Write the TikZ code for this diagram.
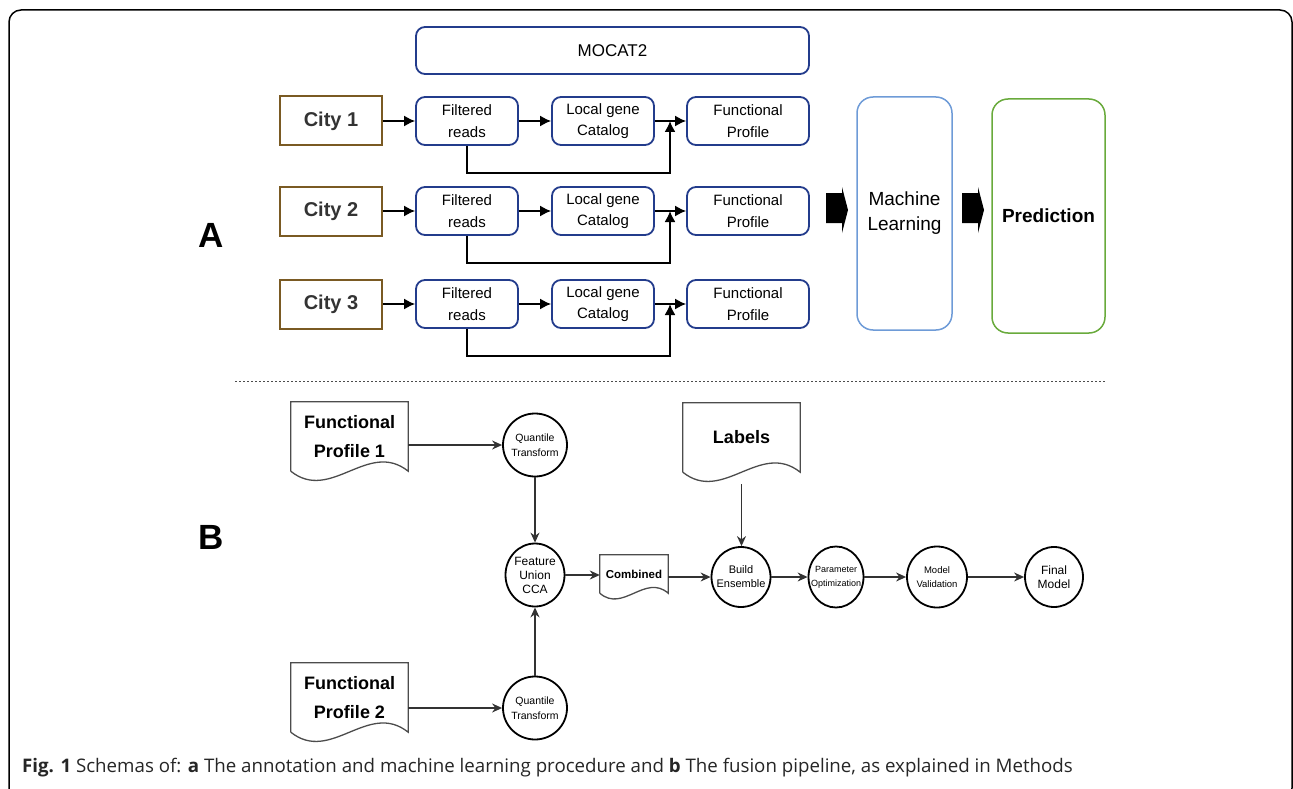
\documentclass[tikz,border=0pt]{standalone}
\usepackage{fontspec}
\setmainfont{Liberation Sans}
\newfontfamily\capfont{Open Sans}
\usepackage{tikz}
\usetikzlibrary{arrows.meta, shapes.geometric, positioning}
\definecolor{mocblue}{RGB}{35,60,140}
\definecolor{citybrown}{RGB}{122,90,35}
\definecolor{mlblue}{RGB}{110,155,215}
\definecolor{predgreen}{RGB}{105,170,60}
\tikzstyle{stepbox}=[rectangle, rounded corners=9pt, draw=mocblue, line width=1.8pt, minimum width=102pt, minimum height=48pt, inner sep=0pt, align=center, font=\fontsize{15}{21.5}\selectfont]
\tikzstyle{city}=[rectangle, draw=citybrown, line width=2pt, minimum width=102pt, minimum height=49pt, text=black!80, font=\fontsize{20}{24}\selectfont\bfseries]
\tikzstyle{flow}=[-{Latex[length=11pt,width=11pt]}, line width=1.6pt]
\tikzstyle{bigarrow}=[fill=black]
\tikzstyle{stage}=[ellipse, draw, line width=1.8pt, minimum width=59pt, minimum height=61pt, inner xsep=-14pt, inner ysep=0pt, align=center]
\tikzstyle{doc}=[rectangle, inner sep=0pt, minimum width=117pt, minimum height=69pt, align=center, font=\fontsize{18}{29}\selectfont\bfseries]
\tikzstyle{docline}=[draw=black!70, line width=1.3pt]
\tikzstyle{link}=[-{Stealth[length=10pt,width=9pt]}, line width=1.3pt, draw=black!80]
\newcommand{\docoutline}[3]{\draw[docline] (#1.south west) |- (#1.north east) -- (#1.south east) .. controls +(-#2,-#3) and +(#2,#3) .. (#1.south west);}
\begin{document}
\begin{tikzpicture}[x=1pt, y=-1pt]
        \useasboundingbox (0,0) rectangle (1293,789);
        \draw[line width=1.5pt, rounded corners=12pt] (9,10) rectangle (1292,800);

        \node[stepbox, minimum width=393pt, minimum height=47pt, font=\fontsize{17}{20}\selectfont] (mocat) at (612.5,50.5) {MOCAT2};

        \node[city] (city1) at (331,121) {City 1};
        \node[stepbox] (filt1) at (467,121) {Filtered\\reads};
        \node[stepbox] (cat1) at (603,121) {Local gene\\Catalog};
        \node[stepbox, minimum width=122pt] (prof1) at (748,121) {Functional\\Profile};
        \coordinate (join1) at (670,121);
        \draw[flow] (city1) -- (filt1);
        \draw[flow] (filt1) -- (cat1);
        \draw[flow] (cat1) -- (prof1);
        \draw[flow] (filt1.south) -- ++(0,27) -| (join1);

        \node[city] (city2) at (331,211) {City 2};
        \node[stepbox] (filt2) at (467,211) {Filtered\\reads};
        \node[stepbox] (cat2) at (603,211) {Local gene\\Catalog};
        \node[stepbox, minimum width=122pt] (prof2) at (748,211) {Functional\\Profile};
        \coordinate (join2) at (670,211);
        \draw[flow] (city2) -- (filt2);
        \draw[flow] (filt2) -- (cat2);
        \draw[flow] (cat2) -- (prof2);
        \draw[flow] (filt2.south) -- ++(0,27) -| (join2);

        \node[city] (city3) at (331,304) {City 3};
        \node[stepbox] (filt3) at (467,304) {Filtered\\reads};
        \node[stepbox] (cat3) at (603,304) {Local gene\\Catalog};
        \node[stepbox, minimum width=122pt] (prof3) at (748,304) {Functional\\Profile};
        \coordinate (join3) at (670,304);
        \draw[flow] (city3) -- (filt3);
        \draw[flow] (filt3) -- (cat3);
        \draw[flow] (cat3) -- (prof3);
        \draw[flow] (filt3.south) -- ++(0,27) -| (join3);

        \node[stepbox, draw=mlblue, line width=1.5pt, rounded corners=16pt, minimum width=95pt, minimum height=233pt, font=\fontsize{19}{25}\selectfont] (ml) at (904.5,213.5) {Machine\\Learning};
        \node[stepbox, draw=predgreen, line width=1.5pt, rounded corners=16pt, minimum width=113pt, minimum height=234pt, font=\fontsize{19}{25}\selectfont\bfseries] (pred) at (1048.5,216) {Prediction};
        \fill[bigarrow] (826,193) -- (842,193) -- (842,187) -- (848,210) -- (842,233) -- (842,223) -- (826,223) -- cycle;
        \fill[bigarrow] (962,193) -- (978,193) -- (978,187) -- (984,210) -- (978,233) -- (978,223) -- (962,223) -- cycle;

        \node[font=\fontsize{35}{40}\selectfont\bfseries] (parta) at (211,235) {A};
        \node[font=\fontsize{35}{40}\selectfont\bfseries] (partb) at (211,537) {B};
        \draw[black!70, line width=0.8pt, dash pattern=on 2pt off 2pt] (235,381) -- (1105,381);

        \node[doc] (fpdoc1) at (349.5,436.5) {Functional\\Profile 1};
        \docoutline{fpdoc1}{40}{32}
        \node[doc] (fpdoc2) at (349.5,697.5) {Functional\\Profile 2};
        \docoutline{fpdoc2}{40}{32}
        \node[doc] (labels) at (741.5,437.5) {Labels};
        \docoutline{labels}{40}{32}
        \node[doc, minimum width=68pt, minimum height=38pt, font=\fontsize{11.5}{14}\selectfont\bfseries] (comb) at (634,574) {Combined};
        \docoutline{comb}{23}{20}

        \node[stage, minimum width=64pt, minimum height=63pt, font=\fontsize{10.5}{14.5}\selectfont] (qt1) at (535,445) {Quantile\\Transform};
        \node[stage, minimum width=64pt, minimum height=63pt, font=\fontsize{10.5}{14.5}\selectfont] (qt2) at (535,708) {Quantile\\Transform};
        \node[stage, minimum height=63pt, font=\fontsize{12}{14}\selectfont] (fu) at (535,575) {Feature\\Union\\CCA};
        \node[stage, minimum height=60pt, font=\fontsize{11}{14}\selectfont] (build) at (741,577) {Build\\Ensemble};
        \node[stage, minimum width=55pt, font=\fontsize{9}{14}\selectfont] (param) at (836,577) {Parameter\\Optimization};
        \node[stage, minimum width=60pt, font=\fontsize{9.5}{13.5}\selectfont] (valid) at (937,577) {Model\\Validation};
        \node[stage, minimum width=58pt, minimum height=60pt, font=\fontsize{12}{14.5}\selectfont] (final) at (1054,577) {Final\\Model};

        \draw[link] (fpdoc1.east |- qt1) -- (qt1);
        \draw[link] (fpdoc2.east |- qt2) -- (qt2);
        \draw[link] (qt1) -- (fu);
        \draw[link] (qt2) -- (fu);
        \draw[link] (fu) -- (fu -| comb.west);
        \draw[link] (comb.east |- build) -- (build);
        \draw[link, shorten <=12pt] (labels.south) -- (labels.south |- build.north);
        \draw[link] (build) -- (param);
        \draw[link] (param) -- (valid);
        \draw[link] (valid) -- (final);

        \node[anchor=west, inner sep=0pt, text=black!85, font=\capfont\fontsize{18.7}{22}\selectfont] (caption) at (22,768) {\textbf{Fig. 1} Schemas of: \textbf{a} The annotation and machine learning procedure and \textbf{b} The fusion pipeline, as explained in Methods};
\end{tikzpicture}
\end{document}
